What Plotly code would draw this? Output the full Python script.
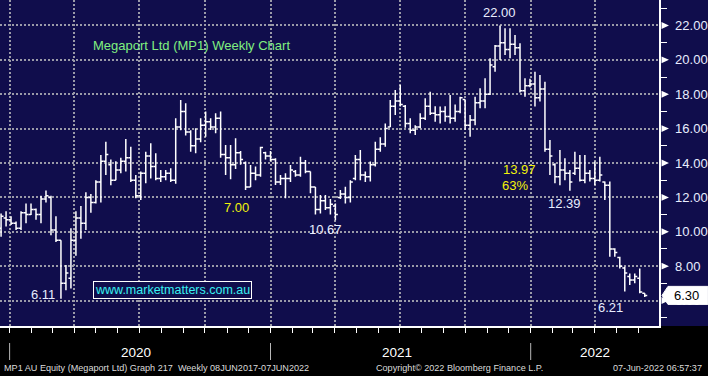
import plotly.graph_objects as go
import pandas as pd

# Weekly bars (Friday-dated), MP1 AU Equity
dates = pd.date_range("2019-12-20", periods=130, freq="7D")

opens = [10.2, 10.8, 10.7, 10.5, 10.2, 11.1, 11.0, 11.3, 11.0, 11.9,
         12.0, 10.1, 9.5, 7.0, 7.3, 9.5, 10.8, 10.5, 12.0, 11.7,
         12.9, 14.1, 13.9, 13.0, 13.6, 14.1, 14.3, 13.0, 12.1, 13.4,
         14.4, 13.8, 13.1, 13.2, 13.4, 13.0, 16.1, 17.0, 15.8, 15.0,
         15.4, 16.2, 16.4, 16.1, 16.6, 14.5, 14.3, 13.9, 14.6, 14.0,
         12.6, 13.4, 13.3, 14.6, 14.4, 14.2, 12.9, 13.1, 13.1, 13.5,
         13.3, 14.0, 13.5, 12.6, 11.3, 11.8, 11.4, 11.5, 12.0, 12.2,
         12.0, 13.1, 14.2, 13.3, 13.2, 13.9, 14.8, 15.1, 16.1, 17.3,
         17.6, 17.3, 16.3, 15.9, 16.1, 16.6, 17.3, 16.9, 16.8, 17.0,
         16.7, 16.6, 17.0, 17.7, 16.2, 16.5, 17.5, 17.6, 18.0, 19.6,
         20.8, 21.0, 20.6, 20.9, 20.7, 18.2, 18.5, 18.6, 17.8, 18.3,
         14.8, 13.9, 13.2, 13.6, 13.4, 13.4, 13.7, 13.0, 13.4, 13.1,
         13.0, 12.9, 12.7, 9.0, 8.5, 7.9, 7.4, 7.2, 7.3, 6.42]

highs = [11.07, 11.2, 10.9, 10.6, 11.2, 11.65, 11.65, 11.35, 12.1, 12.4,
         12.1, 10.9, 9.5, 8.07, 10.2, 11.2, 11.5, 12.3, 12.2, 13.0,
         14.47, 15.24, 14.2, 14.1, 14.3, 15.4, 14.95, 13.3, 13.5, 14.66,
         15.15, 14.56, 13.6, 13.6, 13.7, 16.6, 17.67, 17.47, 15.9, 16.02,
         16.6, 16.99, 16.6, 16.89, 16.99, 15.05, 15.05, 15.44, 14.7, 14.08,
         13.88, 13.79, 14.95, 14.66, 14.7, 14.27, 13.3, 13.4, 13.88, 13.6,
         14.37, 14.17, 13.5, 12.6, 12.14, 12.14, 11.9, 11.65, 12.43, 12.62,
         13.0, 14.47, 14.76, 13.5, 14.08, 15.24, 15.5, 16.3, 17.67, 18.25,
         18.54, 17.37, 16.6, 16.2, 16.89, 17.76, 18.15, 17.3, 17.28, 17.3,
         17.96, 17.4, 17.86, 17.7, 16.79, 17.86, 18.35, 18.93, 20.09, 20.87,
         22.0, 21.83, 21.83, 21.45, 20.96, 18.93, 18.9, 19.31, 19.12, 18.73,
         15.34, 13.98, 14.76, 14.27, 13.6, 14.66, 14.47, 14.47, 13.6, 14.08,
         14.37, 12.92, 12.92, 9.04, 8.55, 7.97, 7.58, 7.58, 7.87, 6.42]

lows = [9.71, 10.3, 10.4, 10.1, 10.1, 10.5, 10.97, 10.7, 10.5, 11.7,
        9.8, 9.4, 6.11, 6.6, 6.7, 8.6, 9.6, 10.1, 11.1, 11.65,
        11.7, 13.3, 12.7, 13.0, 13.4, 13.5, 12.9, 11.95, 11.85, 12.82,
        13.1, 13.0, 12.9, 13.0, 12.9, 12.8, 15.9, 15.6, 14.66, 14.56,
        15.2, 15.53, 15.92, 15.73, 14.3, 13.3, 13.05, 13.65, 13.9, 12.43,
        12.6, 13.0, 13.2, 14.2, 14.1, 12.72, 12.72, 11.95, 12.9, 13.2,
        13.2, 13.4, 12.24, 11.0, 11.07, 11.26, 11.0, 10.67, 11.9, 11.65,
        11.7, 13.0, 13.0, 12.9, 12.92, 13.8, 14.66, 14.95, 16.1, 16.79,
        17.28, 16.05, 15.73, 15.63, 16.02, 16.5, 16.79, 16.4, 16.3, 16.4,
        16.3, 16.4, 16.9, 15.92, 15.53, 16.2, 17.18, 17.18, 17.96, 19.31,
        19.99, 20.28, 20.09, 20.28, 18.1, 17.86, 18.4, 17.28, 17.57, 14.66,
        13.3, 12.82, 12.7, 13.0, 12.39, 13.3, 12.92, 12.82, 12.92, 12.72,
        12.92, 11.85, 8.55, 8.55, 7.87, 6.52, 6.9, 7.0, 6.42, 6.21]

closes = [10.9, 10.7, 10.5, 10.2, 11.1, 11.0, 11.3, 11.0, 11.9, 12.1,
          10.1, 9.5, 7.0, 7.6, 9.5, 10.8, 10.5, 12.0, 11.7, 12.9,
          14.1, 14.5, 13.0, 13.6, 14.1, 14.3, 13.0, 12.1, 13.4, 14.4,
          13.8, 13.1, 13.2, 13.4, 13.0, 16.1, 17.0, 15.8, 15.0, 15.4,
          16.2, 16.4, 16.1, 16.6, 14.5, 14.3, 13.9, 14.6, 14.2, 12.6,
          13.4, 13.3, 14.9, 14.4, 14.2, 12.9, 13.1, 13.1, 13.6, 13.3,
          14.0, 13.5, 12.6, 11.3, 11.8, 11.4, 11.6, 11.0, 12.2, 12.0,
          12.9, 14.2, 13.3, 13.2, 13.9, 14.8, 15.1, 16.0, 17.3, 17.6,
          17.4, 16.3, 15.9, 16.1, 16.6, 17.3, 16.9, 16.8, 17.0, 16.7,
          16.6, 17.0, 17.8, 16.2, 16.5, 17.5, 17.6, 18.0, 19.7, 20.8,
          21.0, 20.6, 20.9, 20.7, 18.2, 18.5, 18.6, 17.8, 18.3, 14.8,
          14.4, 13.2, 13.6, 13.4, 12.9, 13.7, 13.0, 13.4, 13.1, 13.0,
          13.3, 12.7, 9.0, 8.8, 8.0, 7.6, 7.2, 7.4, 6.5, 6.30]

y_ticks = [6, 8, 10, 12, 14, 16, 18, 20, 22]
year_labels = ["2020", "2021", "2022"]
year_starts = ["2020-01-01", "2021-01-01", "2022-01-01"]
last_price = closes[-1]

NAVY = "#100d4c"
WHITE = "#e8edff"
YELLOW = "#f2f20a"
FONT = "Liberation Sans, Arial, sans-serif"

W, H = 708, 376
PL, PR, PT, PB = 0, 47, 0, 50
PW, PH = W - PL - PR, H - PT - PB
PPU = PH / (23.48 - 4.52)  # pixels per price unit


def px(x):
    return x / PW


def py(y):
    return (PH - y) / PH


fig = go.Figure()
fig.add_trace(go.Ohlc(
    x=dates, open=opens, high=highs, low=lows, close=closes,
    increasing=dict(line=dict(color="white", width=1.5)),
    decreasing=dict(line=dict(color="white", width=1.5)),
    tickwidth=0.5, showlegend=False, hoverinfo="skip",
))

shapes = [
    # black strip under the chart
    dict(type="rect", xref="paper", yref="paper", x0=-0.01, x1=W / PW + 0.01,
         y0=-PB / PH - 0.01, y1=0, fillcolor="black", line=dict(width=0),
         layer="below"),
]
for v in y_ticks:
    shapes.append(dict(type="path", xref="paper", yref="y",
                       path=f"M {px(PW+2.5)},{v+0.2} L {px(PW+10)},{v} L {px(PW+2.5)},{v-0.2} Z",
                       fillcolor="white", line=dict(width=0)))
for d in year_starts:
    shapes.append(dict(type="line", xref="x", yref="paper", x0=d, x1=d,
                       y0=py(343), y1=py(360), line=dict(color="#b8b8b8", width=1)))
# last-price flag with a pointer towards the axis
hh = 9 / PPU
shapes.append(dict(type="path", xref="paper", yref="y",
                   path=(f"M {px(PW+3)},{last_price} L {px(PW+9)},{last_price+hh} "
                         f"L {px(W+2)},{last_price+hh} L {px(W+2)},{last_price-hh} "
                         f"L {px(PW+9)},{last_price-hh} Z"),
                   fillcolor="white", line=dict(color="white", width=1)))

ann = []


def txt(x, y, s, color=WHITE, size=13, xanchor="center", **kw):
    ann.append(dict(x=px(x), y=py(y), xref="paper", yref="paper", text=s,
                    showarrow=False, xanchor=xanchor, yanchor="middle",
                    font=dict(family=FONT, size=size, color=color), **kw))


txt(91, 46, "Megaport Ltd (MP1) Weekly Chart", color="#80f080", xanchor="left")
txt(501, 13, "22.00")
txt(43, 294, "6.11")
txt(237.5, 207, "7.00", color=YELLOW)
txt(326.5, 230, "10.67")
txt(521, 169, "13.97", color=YELLOW)
txt(517, 185, "63%", color=YELLOW)
txt(566, 204, "12.39")
txt(612, 307, "6.21")
txt(173.5, 290, "www.marketmatters.com.au", color="#38f0f0", size=12.5,
    bordercolor="white", borderwidth=1, borderpad=1, bgcolor=NAVY)
# last price label text
ann.append(dict(x=px(689), y=last_price, xref="paper", yref="y", text=f"{last_price:.2f}",
                showarrow=False, xanchor="center", yanchor="middle",
                font=dict(family=FONT, size=13, color="black")))
for xc, s in zip([136.5, 398, 597], year_labels):
    txt(xc, 352, s, color="white", size=13.5)
txt(2, 368, "MP1 AU Equity (Megaport Ltd) Graph 217  Weekly 08JUN2017-07JUN2022",
    color="#dcdcdc", size=9.1, xanchor="left")
txt(461, 368, "Copyright\u00a9 2022 Bloomberg Finance L.P.", color="#dcdcdc", size=9.1)
txt(706, 368, "07-Jun-2022 06:57:37", color="#dcdcdc", size=9.1, xanchor="right")

fig.update_layout(
    width=W, height=H, margin=dict(l=PL, r=PR, t=PT, b=PB),
    paper_bgcolor=NAVY, plot_bgcolor=NAVY,
    font=dict(family=FONT, color=WHITE),
    shapes=shapes, annotations=ann, showlegend=False,
    xaxis=dict(
        type="date", range=["2019-12-18 12:00", "2022-06-30 00:00"],
        rangeslider=dict(visible=False),
        tick0="2020-01-01", dtick="M3", showticklabels=False,
        ticks="outside", ticklen=5, tickcolor="white", tickwidth=1,
        showgrid=True, gridcolor="#9a9aa8", gridwidth=2, griddash="2px,2px",
        minor=dict(dtick="M1", tick0="2020-01-01", ticks="outside", ticklen=5,
                   tickcolor="white", tickwidth=1, showgrid=False),
        showline=True, linecolor="white", linewidth=1.5, zeroline=False,
    ),
    yaxis=dict(
        side="right", range=[4.52, 23.48], tick0=0, dtick=2, tickformat=".2f",
        tickfont=dict(family=FONT, size=13, color=WHITE),
        ticks="", ticklabelstandoff=12,
        showgrid=True, gridcolor="#9a9aa8", gridwidth=2, griddash="2px,2px",
        minor=dict(dtick=1, tick0=1, ticks="outside", ticklen=6,
                   tickcolor="white", tickwidth=1, showgrid=False),
        showline=True, linecolor="white", linewidth=1.5, zeroline=False,
    ),
)

fig.write_html(
    "out.html",
    config={"displayModeBar": False, "staticPlot": True},
    post_script="document.body.style.margin='0';document.body.style.padding='0';"
                "document.body.style.overflow='hidden';document.body.style.background='black';",
)
